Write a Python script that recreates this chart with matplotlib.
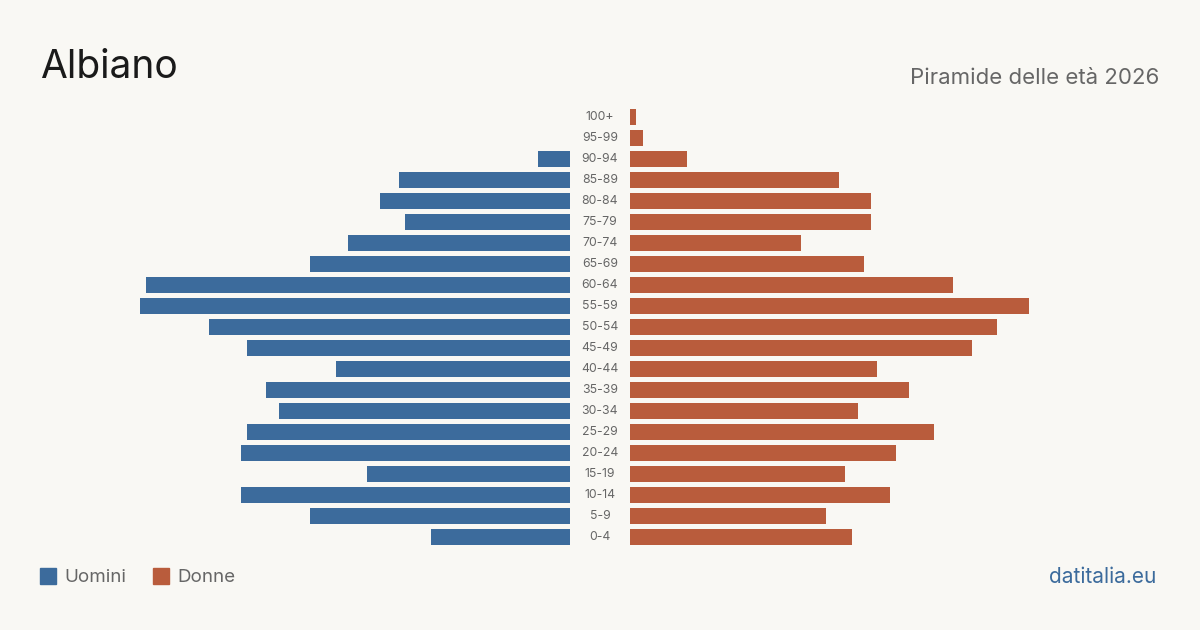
import matplotlib
matplotlib.use("Agg")
import matplotlib.pyplot as plt
from matplotlib.patches import Rectangle

plt.rcParams['font.family'] = ['Inter', 'DejaVu Sans']

age_groups = ['0-4', '5-9', '10-14', '15-19', '20-24', '25-29', '30-34', '35-39',
              '40-44', '45-49', '50-54', '55-59', '60-64', '65-69', '70-74',
              '75-79', '80-84', '85-89', '90-94', '95-99', '100+']
uomini = [22, 41, 52, 32, 52, 51, 46, 48, 37, 51, 57, 68, 67, 41, 35, 26, 30, 27, 5, 0, 0]
donne = [35, 31, 41, 34, 42, 48, 36, 44, 39, 54, 58, 63, 51, 37, 27, 38, 38, 33, 9, 2, 1]

bg = '#f9f8f4'
blue = '#3c6b9c'
red = '#b95c3c'
W, H = 1200, 630
unit_px = 6.33  # pixels per person

fig = plt.figure(figsize=(12, 6.3), dpi=100, facecolor=bg)

y_top, y_bot = 106.5, 547.5
bottom = (H - y_bot) / H
height = (y_bot - y_top) / H

ax_l = fig.add_axes([40 / W, bottom, 530 / W, height])
ax_r = fig.add_axes([630 / W, bottom, 530 / W, height])

ypos = list(range(len(age_groups)))
ax_l.barh(ypos, uomini, height=0.8, color=blue)
ax_r.barh(ypos, donne, height=0.8, color=red)

span = 530 / unit_px
ax_l.set_xlim(span, 0)
ax_r.set_xlim(0, span)
for ax in (ax_l, ax_r):
    ax.set_ylim(-0.5, len(age_groups) - 0.5)
    ax.set_facecolor('none')
    ax.axis('off')

for i, lab in enumerate(age_groups):
    yf = bottom + height * (i + 0.5) / len(age_groups)
    fig.text(600 / W, yf, lab, ha='center', va='center', fontsize=8.8, color='#666666')

fig.text(40 / W, 1 - 68 / H, 'Albiano', fontsize=28, color='#1a1a1a', va='center', ha='left')
fig.text(1159 / W, 1 - 78 / H, 'Piramide delle età 2026', fontsize=16, color='#666666',
         va='center', ha='right')

# legend
for x0, col, lab in [(40, blue, 'Uomini'), (153, red, 'Donne')]:
    fig.patches.append(Rectangle((x0 / W, 1 - 584 / H), 16 / W, 16 / H,
                                 transform=fig.transFigure, color=col))
    fig.text((x0 + 24) / W, 1 - 577 / H, lab, fontsize=13.5, color='#666666',
             va='center', ha='left')

fig.text(1156 / W, 1 - 577 / H, 'datitalia.eu', fontsize=15, color=blue,
         va='center', ha='right')

fig.savefig('out.png', dpi=100, facecolor=bg)
